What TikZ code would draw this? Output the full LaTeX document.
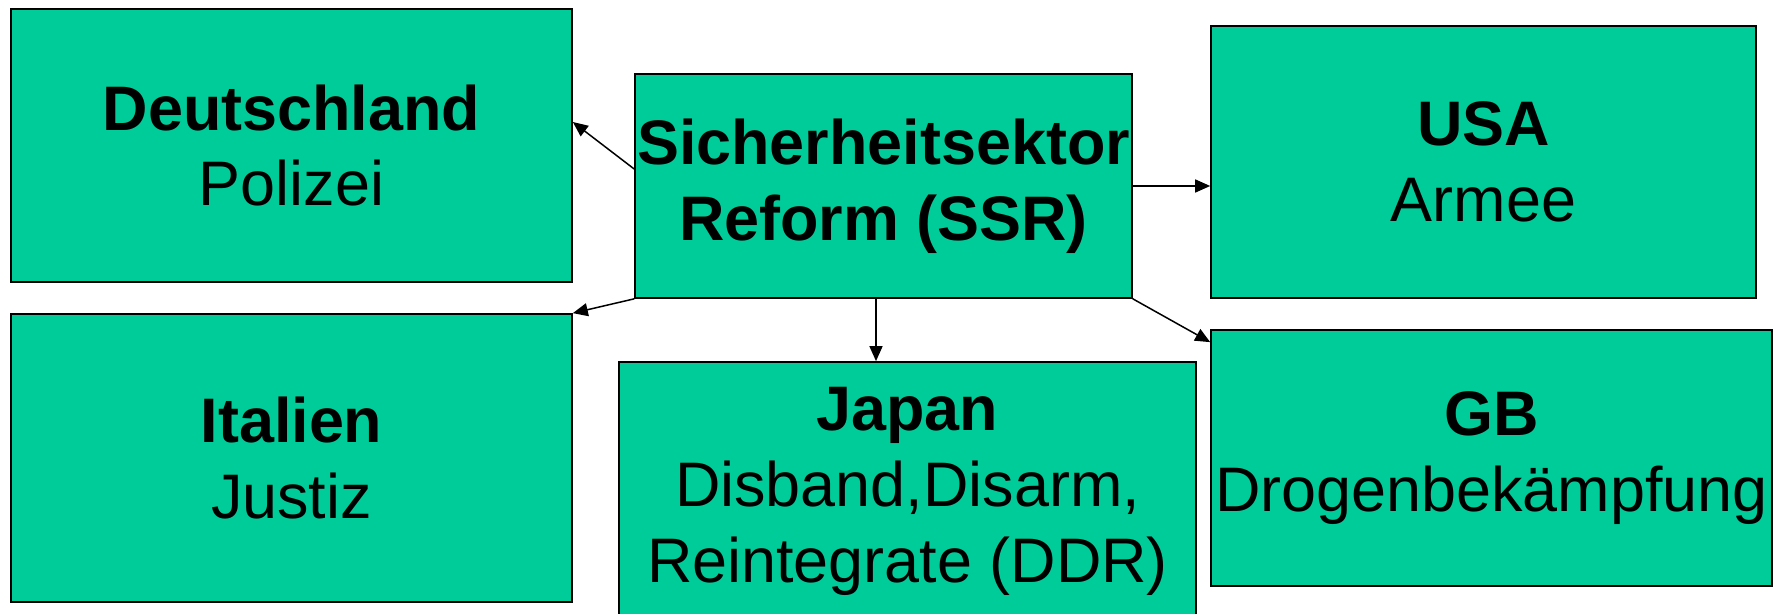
\documentclass[tikz,border=0pt]{standalone}
\usepackage{fontspec}
\setmainfont{Liberation Sans}
\usetikzlibrary{arrows.meta}
\definecolor{ssrgreen}{RGB}{0,204,153}

\begin{document}
\begin{tikzpicture}[x=0.02cm,y=-0.02cm,
  land/.style={draw,line width=0.035cm,fill=ssrgreen,inner sep=0pt,align=center,
    font=\fontsize{35.8pt}{43.2pt}\selectfont},
  link/.style={line width=0.03cm,-{Triangle[length=0.3cm,width=0.26cm]}}]
  \clip (0,0) rectangle (1774,614);
  \node[land,minimum width=9.94cm,minimum height=4.48cm] (ssr) at (883.5,186)
    {\textbf{Sicherheitsektor}\\\textbf{Reform (SSR)}};
  \node[land,minimum width=11.22cm,minimum height=5.46cm] (deu) at (291.5,145.5)
    {\textbf{Deutschland}\\Polizei};
  \node[land,minimum width=10.9cm,minimum height=5.44cm] (usa) at (1483.5,162)
    {\textbf{USA}\\Armee};
  \node[land,minimum width=11.22cm,minimum height=5.76cm] (ita) at (291.5,458)
    {\textbf{Italien}\\Justiz};
  \node[land,minimum width=11.54cm,minimum height=5.16cm] (jap) at (907.5,491)
    {\textbf{Japan}\\Disband,Disarm,\\Reintegrate (DDR)};
  \node[land,minimum width=11.22cm,minimum height=5.12cm] (gb) at (1491.5,458)
    {\textbf{GB}\\Drogenbekämpfung};
  \draw[link] ([yshift=0.34cm]ssr.west) -- ([yshift=0.47cm]deu.east);
  \draw[link] (ssr.east) -- (ssr.east -| usa.west);
  \draw[link] (ssr.south west) -- (ita.north east);
  \draw[link] ([xshift=-0.15cm]ssr.south) -- ([xshift=-0.15cm]ssr.south |- jap.north);
  \draw[link] (ssr.south east) -- ([yshift=-0.26cm]gb.north west);
\end{tikzpicture}
\end{document}
